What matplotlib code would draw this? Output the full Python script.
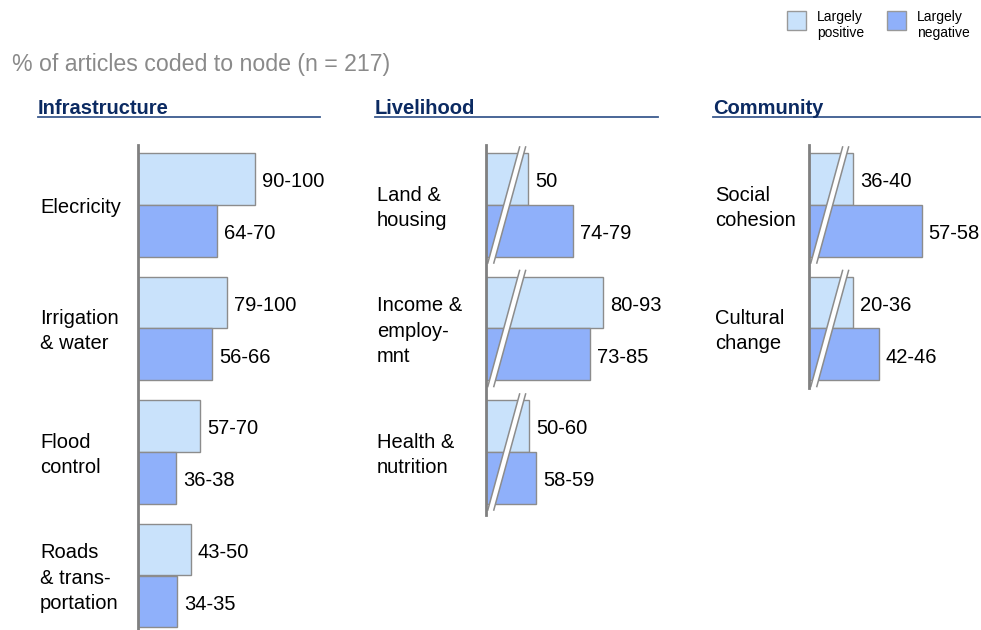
import matplotlib
matplotlib.use("Agg")
import matplotlib.pyplot as plt
from matplotlib.patches import Rectangle, Polygon
from matplotlib.lines import Line2D
from matplotlib.transforms import blended_transform_factory

plt.rcParams['font.family'] = ['Liberation Sans', 'DejaVu Sans']

# data (bar lengths, axis is broken in two panels)
infra_labels = ["Elecricity", "Irrigation\n& water", "Flood\ncontrol", "Roads\n& trans-\nportation"]
infra_pos = [97.5, 74.2, 51.7, 44.2]
infra_neg = [65.8, 61.7, 31.7, 32.5]
infra_pos_txt = ["90-100", "79-100", "57-70", "43-50"]
infra_neg_txt = ["64-70", "56-66", "36-38", "34-35"]

live_labels = ["Land &\nhousing", "Income &\nemploy-\nmnt", "Health &\nnutrition"]
live_pos = [35.0, 97.5, 36.0]
live_neg = [72.5, 86.7, 41.7]
live_pos_txt = ["50", "80-93", "50-60"]
live_neg_txt = ["74-79", "73-85", "58-59"]

comm_labels = ["Social\ncohesion", "Cultural\nchange"]
comm_pos = [36.7, 36.7]
comm_neg = [94.0, 58.3]
comm_pos_txt = ["36-40", "20-36"]
comm_neg_txt = ["57-58", "42-46"]

LIGHT = "#c9e2fb"
DARK = "#8fb0fa"
EDGE = "#8c8c8c"
NAVY = "#0b2a62"
FS = 14.5

W, H = 981, 630
fig = plt.figure(figsize=(W / 100, H / 100), dpi=100)

PX = 1.2           # pixels per data unit
TOP, BOT = 145, 632
CENTER0, PITCH = 205, 123.5
ylim_top = (TOP - CENTER0) / PITCH
ylim_bot = (BOT - CENTER0) / PITCH


def panel(left, right, header, line_right, label_x, labels, pos, neg,
          pos_txt, neg_txt, broken, axis_end):
    ax = fig.add_axes([left / W, 1 - BOT / H, (right - left) / W, (BOT - TOP) / H])
    ax.set_xlim(0, (right - left) / PX)
    ax.set_ylim(ylim_bot, ylim_top)
    for s in ["top", "right", "bottom"]:
        ax.spines[s].set_visible(False)
    ax.spines["left"].set_color("#808080")
    ax.spines["left"].set_linewidth(2)
    ax.spines["left"].set_bounds(ylim_top, (axis_end - CENTER0) / PITCH)
    ax.spines["left"].set_zorder(6)
    ax.set_xticks([])
    ax.set_yticks([])
    ax.patch.set_visible(False)

    ys = list(range(len(labels)))
    ax.barh([y - 0.21 for y in ys], pos, height=0.42, color=LIGHT, edgecolor=EDGE, linewidth=1)
    ax.barh([y + 0.21 for y in ys], neg, height=0.42, color=DARK, edgecolor=EDGE, linewidth=1)

    tr = blended_transform_factory(fig.transFigure, ax.transData)
    for y, lab in zip(ys, labels):
        ax.annotate(lab, (label_x / W, y), xycoords=tr, xytext=(0, -2), textcoords="offset points",
                    ha="left", va="center", fontsize=FS, linespacing=1.42,
                    annotation_clip=False)
    for y, v, t in zip(ys, pos, pos_txt):
        ax.annotate(t, (v, y - 0.21), xytext=(5, -2), textcoords="offset points",
                    va="center", fontsize=FS, annotation_clip=False)
    for y, v, t in zip(ys, neg, neg_txt):
        ax.annotate(t, (v, y + 0.21), xytext=(5, -2), textcoords="offset points",
                    va="center", fontsize=FS, annotation_clip=False)

    if broken:
        for y in ys:
            a, b = (1.5, y + 0.47), (6.5, y + 0.47)
            c, d = (33.0, y - 0.47), (28.0, y - 0.47)
            ax.add_patch(Polygon([a, b, c, d], closed=True, facecolor="white",
                                 edgecolor="none", zorder=4, clip_on=False))
            ax.plot([a[0], d[0]], [a[1], d[1]], color=EDGE, lw=1.1, zorder=5, clip_on=False)
            ax.plot([b[0], c[0]], [b[1], c[1]], color=EDGE, lw=1.1, zorder=5, clip_on=False)

    hx = label_x - 2
    fig.text(hx / W, 1 - 108 / H, header, fontsize=FS, fontweight="bold",
             color=NAVY, ha="left", va="center")
    fig.add_artist(Line2D([hx / W, line_right / W], [1 - 117 / H] * 2,
                          color="#3b5b8f", lw=1.3, transform=fig.transFigure))
    return ax


panel(138, 320, "Infrastructure", 320, 40, infra_labels, infra_pos, infra_neg,
      infra_pos_txt, infra_neg_txt, False, 632)
panel(486, 658, "Livelihood", 658, 377, live_labels, live_pos, live_neg,
      live_pos_txt, live_neg_txt, True, 515)
panel(809, 975, "Community", 980, 715, comm_labels, comm_pos, comm_neg,
      comm_pos_txt, comm_neg_txt, True, 388)

fig.text(12 / W, 1 - 65 / H, "% of articles coded to node (n = 217)",
         fontsize=16.7, color="#8a8a8a", ha="left", va="center")

# legend
for x0, col, txt in [(787, LIGHT, "Largely\npositive"), (887, DARK, "Largely\nnegative")]:
    fig.add_artist(Rectangle((x0 / W, 1 - 30 / H), 19 / W, 19 / H, transform=fig.transFigure,
                             facecolor=col, edgecolor="#999999", lw=1))
    fig.text((x0 + 30) / W, 1 - 25 / H, txt, fontsize=10, ha="left", va="center",
             linespacing=1.1)

fig.savefig("out.png", dpi=100)
